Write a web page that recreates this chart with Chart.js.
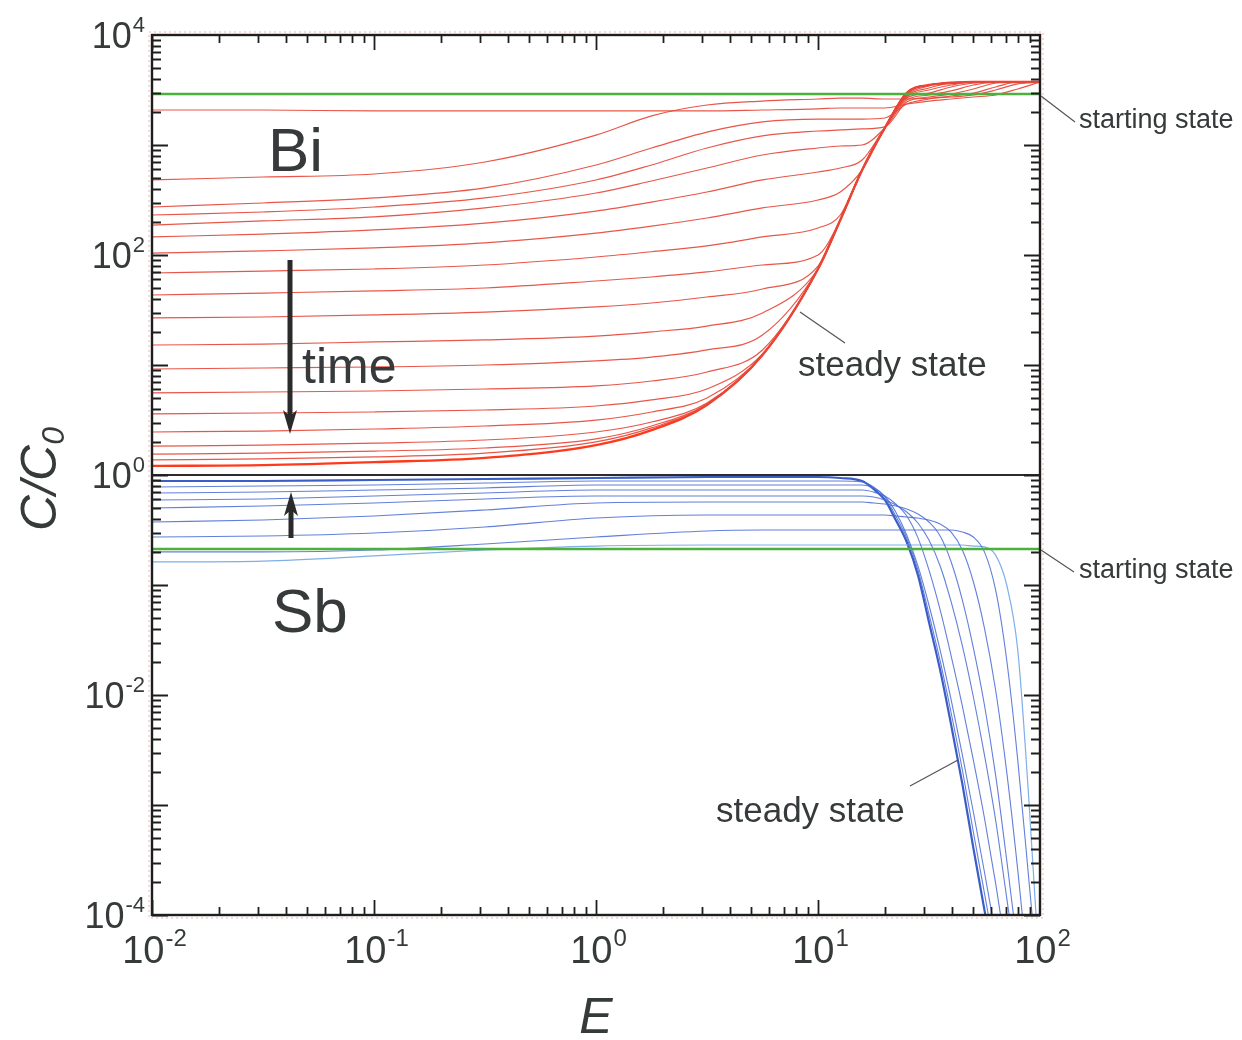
<!DOCTYPE html>
<html><head><meta charset="utf-8">
<script src="https://cdn.jsdelivr.net/npm/chart.js@4/dist/chart.umd.min.js"></script>
<style>html,body{margin:0;padding:0;background:#fff;}canvas{display:block;}</style>
</head><body>
<canvas id="c" width="1242" height="1040"></canvas>
<script>
// ---- data ----
const biE = [0.01,0.0316,0.1,0.316,1,1.78,3.16,5.62,10,12.6,15.8,20,25.1,31.6,39.8,50.1,63.1,79.4,100];
const bi01 = [2080,2080,2040,2040,2040,2040,2040,2080,2130,2170,2170,2170,2360,2510,2620,2730,2850,3230,3740];
const bi02 = [481,512,545,701,1230,1840,2310,2510,2620,2670,2670,2620,2620,2670,2730,2850,3160,3590,3740];
const bi03 = [273,297,330,407,658,939,1310,1620,1720,1720,1720,1760,2360,2620,2790,2970,3370,3740,3740];
const bi04 = [231,246,273,330,481,658,939,1210,1340,1370,1400,1460,2460,2730,2910,3230,3660,3740,3740];
const bi05 = [187,204,222,268,366,471,618,811,939,979,1000,1430,2560,2850,3100,3510,3740,3740,3740];
const bi06 = [146,155,169,195,251,303,374,481,568,618,730,1430,2670,2970,3370,3660,3740,3740,3740];
const bi07 = [104,109,116,129,158,183,217,268,316,374,593,1430,2730,3160,3510,3740,3740,3740,3740];
const bi08 = [68.6,71.5,74.6,81.1,95.9,107,121,146,176,231,593,1430,2790,3300,3660,3740,3740,3740,3740];
const bi09 = [43.3,45.1,47.1,50.1,58.0,63.1,70.1,81.1,100,208,593,1430,2850,3440,3740,3740,3740,3740,3740];
const bi10 = [26.8,27.3,28.5,30.3,33.7,36.6,41.5,49.1,79.4,208,593,1430,2910,3510,3660,3740,3740,3740,3740];
const bi11 = [15.2,15.5,16.2,16.9,18.3,20.0,22.6,29.7,74.6,208,593,1430,2970,3510,3660,3740,3740,3740,3740];
const bi12 = [9.20,9.39,9.59,10.0,10.9,11.8,13.7,18.7,74.6,208,593,1430,2970,3510,3660,3740,3740,3740,3740];
const bi13 = [5.57,5.68,5.80,6.05,6.45,7.15,8.64,13.7,74.6,208,593,1430,2970,3510,3660,3740,3740,3740,3740];
const bi14 = [3.59,3.66,3.74,3.90,4.24,4.81,6.05,12.6,74.6,208,593,1430,2970,3510,3660,3740,3740,3740,3740];
const bi15 = [2.46,2.51,2.62,2.79,3.16,3.74,5.01,12.3,74.6,208,593,1430,2970,3510,3660,3740,3740,3740,3740];
const bi16 = [1.83,1.87,1.95,2.08,2.46,3.03,4.51,12.3,74.6,208,593,1430,2970,3510,3660,3740,3740,3740,3740];
const bi17 = [1.55,1.58,1.65,1.76,2.13,2.79,4.42,12.3,74.6,208,593,1430,2970,3510,3660,3740,3740,3740,3740];
const bi18 = [1.37,1.40,1.46,1.58,2.00,2.68,4.33,12.3,74.6,208,593,1430,2970,3510,3660,3740,3740,3740,3740];
const biSteady = [1.21,1.23,1.31,1.43,1.87,2.56,4.33,12.3,74.6,208,593,1430,2970,3510,3660,3740,3740,3740,3740];

const sbE = [0.01,0.0316,0.1,0.316,1,3.16,5.62,10,12.6,15.8,17.8,20,22.4,25.1,28.2,31.6,35.5,39.8,44.7,50.1,56.2,63.1,70.8,79.4,89.1,100];
const sb1 = [0.162,0.165,0.184,0.208,0.226,0.231,0.231,0.231,0.231,0.231,0.231,0.231,0.231,0.231,0.231,0.231,0.231,0.231,0.231,0.226,0.222,0.187,0.1,0.0256,0.00111,0.0000256];
const sb2 = [0.200,0.200,0.208,0.236,0.273,0.310,0.316,0.316,0.316,0.316,0.316,0.316,0.316,0.316,0.316,0.316,0.316,0.316,0.303,0.273,0.200,0.0901,0.0208,0.00256,0.000208,0.0000169];
const sb3 = [0.273,0.279,0.297,0.337,0.406,0.433,0.433,0.433,0.433,0.433,0.433,0.433,0.424,0.415,0.406,0.390,0.358,0.303,0.208,0.107,0.0406,0.0111,0.00200,0.000256,0.0000256,null];
const sb4 = [0.374,0.390,0.424,0.481,0.557,0.568,0.568,0.568,0.568,0.568,0.557,0.545,0.523,0.491,0.442,0.374,0.279,0.162,0.0730,0.0268,0.00811,0.00187,0.000316,0.0000481,null,null];
const sb5 = [0.501,0.523,0.557,0.605,0.644,0.644,0.644,0.644,0.644,0.644,0.631,0.593,0.534,0.461,0.366,0.256,0.149,0.0701,0.0279,0.00959,0.00285,0.000730,0.000143,0.0000285,null,null];
const sb6 = [0.593,0.605,0.644,0.686,0.730,0.730,0.730,0.730,0.730,0.730,0.700,0.644,0.545,0.424,0.268,0.137,0.0593,0.0226,0.00794,0.00256,0.000762,0.000195,0.0000433,null,null,null];
const sb7 = [0.686,0.700,0.730,0.762,0.811,0.811,0.811,0.811,0.811,0.811,0.762,0.644,0.461,0.285,0.149,0.0658,0.0256,0.00901,0.00285,0.000864,0.000246,0.0000658,null,null,null,null];
const sb8 = [0.778,0.794,0.811,0.846,0.882,0.882,0.882,0.882,0.882,0.864,0.778,0.631,0.424,0.268,0.137,0.0545,0.0204,0.00686,0.00208,0.000568,0.000158,0.0000433,null,null,null,null];
const sbSteady = [0.882,0.882,0.901,0.920,0.939,0.959,0.959,0.959,0.939,0.882,0.746,0.593,0.390,0.246,0.123,0.0461,0.0169,0.00534,0.00155,0.000407,0.000111,0.0000316,null,null,null,null];

const startE = [0.01, 100];
const biStart = [2910, 2910];
const sbStart = [0.2125, 0.2125];
const unity = [1, 1];

const xTickExps = [-2, -1, 0, 1, 2];
const yTickExps = [-4, -2, 0, 2, 4];
const xTitle = 'E';
const yTitle = ['C/C', '0'];

// ---- build datasets ----
const pts = (xs, ys) => xs.map((x, i) => ({x, y: ys[i]}));
const RED = 'rgba(230,72,58,0.92)';
const BLUE = 'rgba(72,104,212,0.85)';
const ds = [];
ds.push({data: pts(startE, biStart), borderColor: '#4cb03c', borderWidth: 2.6});
ds.push({data: pts(startE, sbStart), borderColor: '#4cb03c', borderWidth: 2.6});
ds.push({data: pts(startE, unity), borderColor: '#2c2c2c', borderWidth: 2});
[bi01,bi02,bi03,bi04,bi05,bi06,bi07,bi08,bi09,bi10,bi11,bi12,bi13,bi14,bi15,bi16,bi17,bi18].forEach(c =>
  ds.push({data: pts(biE, c), borderColor: RED, borderWidth: 1.2}));
ds.push({data: pts(biE, biSteady), borderColor: '#ff3a1c', borderWidth: 2.4});
[sb2,sb3,sb4,sb5,sb6,sb7,sb8].forEach(c =>
  ds.push({data: pts(sbE, c), borderColor: BLUE, borderWidth: 1.1}));
ds.push({data: pts(sbE, sb1), borderColor: 'rgba(120,170,232,0.95)', borderWidth: 1.2});
ds.push({data: pts(sbE, sbSteady), borderColor: '#3b5ec6', borderWidth: 2.2});

const FONT = '"Liberation Sans", Arial, sans-serif';
const TXT = '#363a3a';

function drawPow(ctx, exp, x, cy, align, size) {
  const sup = Math.round(size * 0.62);
  ctx.font = `${size}px ${FONT}`;
  const w1 = ctx.measureText('10').width;
  ctx.font = `${sup}px ${FONT}`;
  const es = String(exp);
  const w2 = ctx.measureText(es).width;
  const total = w1 + w2;
  let left = align === 'right' ? x - total : x - total / 2;
  ctx.textBaseline = 'alphabetic';
  ctx.textAlign = 'left';
  const base = cy + size * 0.36;
  ctx.font = `${size}px ${FONT}`;
  ctx.fillText('10', left, base);
  ctx.font = `${sup}px ${FONT}`;
  ctx.fillText(es, left + w1 + 1, base - size * 0.45);
}

function arrow(ctx, x, y0, y1) {
  const dir = Math.sign(y1 - y0);
  ctx.lineWidth = 5;
  ctx.beginPath(); ctx.moveTo(x, y0); ctx.lineTo(x, y1 - dir * 16); ctx.stroke();
  ctx.beginPath();
  ctx.moveTo(x, y1);
  ctx.lineTo(x - 7, y1 - dir * 24);
  ctx.lineTo(x, y1 - dir * 18);
  ctx.lineTo(x + 7, y1 - dir * 24);
  ctx.closePath(); ctx.fill();
}

const frame = {
  id: 'frame',
  afterDatasetsDraw(chart) {
    const {ctx, chartArea: a, scales: {x, y}} = chart;
    ctx.save();
    // dotted outer frame
    ctx.strokeStyle = 'rgba(225,120,110,0.55)';
    ctx.lineWidth = 1; ctx.setLineDash([2, 3]);
    ctx.strokeRect(a.left - 3, a.top - 3, a.right - a.left + 6, a.bottom - a.top + 6);
    ctx.setLineDash([]);
    // ticks
    ctx.strokeStyle = '#1e1e1e'; ctx.lineWidth = 1.8;
    ctx.beginPath();
    for (let d = -2; d <= 1; d++) for (let m = 1; m <= 9; m++) {
      const px = Math.round(x.getPixelForValue(m * Math.pow(10, d))) + 0.5;
      const len = m === 1 ? 15 : 8;
      ctx.moveTo(px, a.bottom); ctx.lineTo(px, a.bottom - len);
      ctx.moveTo(px, a.top); ctx.lineTo(px, a.top + len);
    }
    for (let d = -4; d <= 3; d++) for (let m = 1; m <= 9; m++) {
      const py = Math.round(y.getPixelForValue(m * Math.pow(10, d))) + 0.5;
      const len = m === 1 ? 16 : 9;
      ctx.moveTo(a.left, py); ctx.lineTo(a.left + len, py);
      ctx.moveTo(a.right, py); ctx.lineTo(a.right - len, py);
    }
    ctx.stroke();
    // border
    ctx.lineWidth = 2.4; ctx.strokeStyle = '#1e1e1e';
    ctx.strokeRect(a.left, a.top, a.right - a.left, a.bottom - a.top);

    ctx.fillStyle = TXT;
    // tick labels
    xTickExps.forEach(e => drawPow(ctx, e, x.getPixelForValue(Math.pow(10, e)) + 2, a.bottom + 34, 'center', 38));
    yTickExps.forEach(e => drawPow(ctx, e, a.left - 8, y.getPixelForValue(Math.pow(10, e)), 'right', 36));

    // axis titles
    ctx.font = `italic 50px ${FONT}`;
    ctx.textAlign = 'center'; ctx.textBaseline = 'alphabetic';
    ctx.fillText(xTitle, (a.left + a.right) / 2, a.bottom + 118);
    ctx.save();
    ctx.translate(56, (a.top + a.bottom) / 2 + 4);
    ctx.rotate(-Math.PI / 2);
    ctx.font = `italic 50px ${FONT}`;
    const wC = ctx.measureText(yTitle[0]).width;
    ctx.font = `italic 32px ${FONT}`;
    const w0 = ctx.measureText(yTitle[1]).width;
    const L = -(wC + w0) / 2;
    ctx.textAlign = 'left';
    ctx.font = `italic 50px ${FONT}`;
    ctx.fillText(yTitle[0], L, 0);
    ctx.font = `italic 32px ${FONT}`;
    ctx.fillText(yTitle[1], L + wC, 8);
    ctx.restore();

    // annotations
    ctx.textAlign = 'left'; ctx.textBaseline = 'alphabetic';
    ctx.font = `62px ${FONT}`;
    ctx.fillText('Bi', 268, 171);
    ctx.fillText('Sb', 272, 632);
    ctx.font = `50px ${FONT}`;
    ctx.fillText('time', 302, 383);
    ctx.font = `35px ${FONT}`;
    ctx.fillText('steady state', 798, 376);
    ctx.fillText('steady state', 716, 822);
    ctx.font = `27px ${FONT}`;
    ctx.fillText('starting state', 1079, 128);
    ctx.fillText('starting state', 1079, 578);

    // leader lines
    ctx.strokeStyle = '#555'; ctx.lineWidth = 1.2;
    ctx.beginPath();
    ctx.moveTo(800, 312); ctx.lineTo(845, 343);
    ctx.moveTo(958, 760); ctx.lineTo(910, 786);
    ctx.moveTo(1041, 96); ctx.lineTo(1075, 122);
    ctx.moveTo(1041, 550); ctx.lineTo(1074, 572);
    ctx.stroke();

    // arrows
    ctx.strokeStyle = '#2a2a2a'; ctx.fillStyle = '#2a2a2a';
    arrow(ctx, 290, 260, 434);
    arrow(ctx, 291, 538, 492);
    ctx.restore();
  }
};

new Chart(document.getElementById('c'), {
  type: 'scatter',
  data: {datasets: ds},
  options: {
    responsive: false,
    animation: false,
    devicePixelRatio: 1,
    showLine: true,
    layout: {padding: {left: 152, right: 202, top: 35, bottom: 125}},
    elements: {point: {radius: 0, hoverRadius: 0}, line: {cubicInterpolationMode: 'monotone', fill: false}},
    datasets: {scatter: {showLine: true}},
    scales: {
      x: {type: 'logarithmic', min: 0.01, max: 100, display: false},
      y: {type: 'logarithmic', min: 1e-4, max: 1e4, display: false}
    },
    plugins: {legend: {display: false}, tooltip: {enabled: false}}
  },
  plugins: [frame]
});
</script>
</body></html>
